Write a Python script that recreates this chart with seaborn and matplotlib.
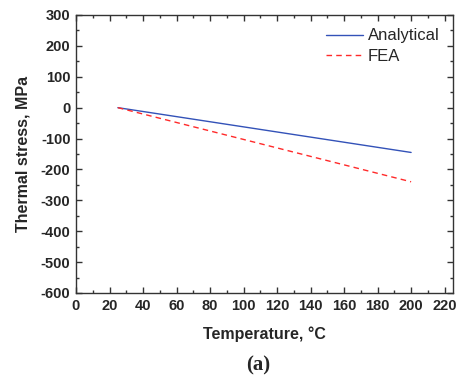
import numpy as np
import pandas as pd
import matplotlib
matplotlib.use("Agg")
import matplotlib.pyplot as plt
import seaborn as sns
from matplotlib.ticker import MultipleLocator

# data
temperature = [25, 200]
analytical = [0, -145]
fea = [0, -240]

sns.set_style("ticks")
plt.rcParams['font.family'] = ['Liberation Sans', 'DejaVu Sans']
plt.rcParams['axes.unicode_minus'] = False

df = pd.DataFrame({
    "temperature": temperature + temperature,
    "stress": analytical + fea,
    "method": ["Analytical"] * len(temperature) + ["FEA"] * len(temperature)
})

fig = plt.figure(figsize=(4.59, 3.77), dpi=100)
ax = fig.add_axes([76/459, 1-293/377, 377/459, 278/377])

sns.lineplot(data=df[df["method"] == "Analytical"], x="temperature", y="stress",
             color="#3352b8", lw=1.0, label="Analytical", ax=ax)
sns.lineplot(data=df[df["method"] == "FEA"], x="temperature", y="stress",
             color="#ff2a2a", lw=1.0, ls=(0, (4, 3)), label="FEA", ax=ax)

ax.set_xlim(0, 225)
ax.set_ylim(-600, 300)
ax.xaxis.set_major_locator(MultipleLocator(20))
ax.xaxis.set_minor_locator(MultipleLocator(10))
ax.yaxis.set_major_locator(MultipleLocator(100))
ax.yaxis.set_minor_locator(MultipleLocator(50))
ax.tick_params(which="both", direction="in", top=True, right=True, color="#333333", width=1)
ax.tick_params(which="major", length=4, labelsize=10.5, pad=4)
ax.tick_params(which="minor", length=2.5)
for lab in ax.get_xticklabels() + ax.get_yticklabels():
    lab.set_fontweight("bold")
for s in ax.spines.values():
    s.set_color("#333333")
    s.set_linewidth(1)

ax.set_xlabel("Temperature, \u00b0C", fontsize=11.5, fontweight="bold", labelpad=10)
ax.set_ylabel("Thermal stress, MPa", fontsize=11.5, fontweight="bold", labelpad=7)

ax.legend(loc="upper right", frameon=False, fontsize=12, handlelength=2.2,
          handletextpad=0.3, borderaxespad=0.4, labelspacing=0.35)

fig.text(258/459, 1-365/377, "(a)", fontsize=15, fontweight="bold", ha="center", va="center",
         family=["Liberation Serif", "DejaVu Serif"])

fig.savefig("out.png", dpi=100)
